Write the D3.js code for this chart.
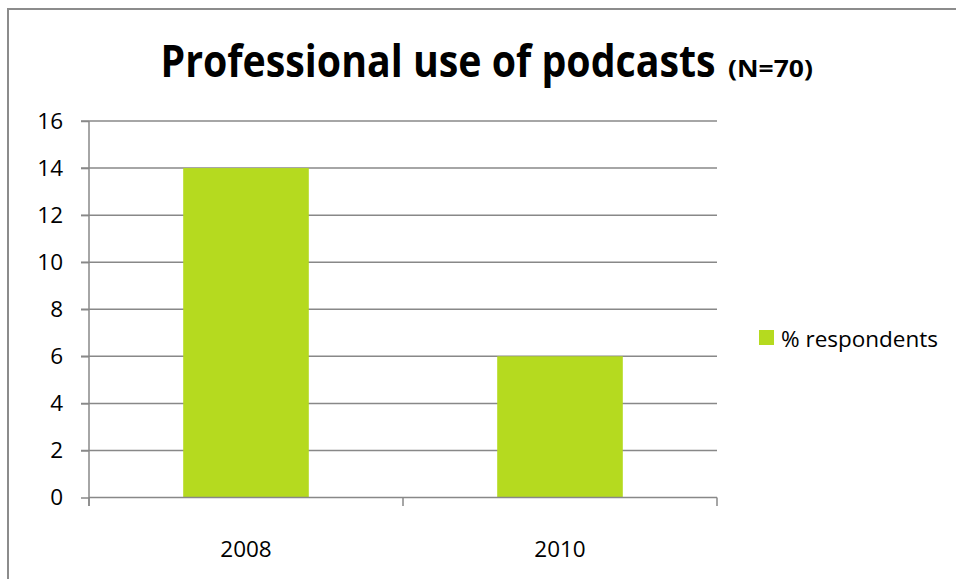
<!DOCTYPE html>
<html>
<head>
<meta charset="utf-8">
<script src="https://cdn.jsdelivr.net/npm/d3@7"></script>
<style>
  html, body { margin: 0; padding: 0; background: #fff; }
  svg { display: block; }
  text { font-family: "Open Sans", sans-serif; fill: #000; }
</style>
</head>
<body>
<svg id="chart" width="956" height="579"></svg>
<script>
const categories = ["2008", "2010"];
const values = [14, 6];
const seriesName = "% respondents";
const yTicks = [0, 2, 4, 6, 8, 10, 12, 14, 16];
const titleMain = "Professional use of podcasts";
const titleSub = "(N=70)";

const svg = d3.select("#chart");
const W = 956, H = 579;
const plot = { left: 89, right: 717, top: 121, bottom: 497.5 };
const gridColor = "#888888";
const barColor = "#b5da1f";
const labelSize = 22.5;

// outer frame
svg.append("path")
  .attr("d", `M8,${H + 5} L8,9 L${W + 5},9`)
  .attr("fill", "none")
  .attr("stroke", "#8c8c8c")
  .attr("stroke-width", 2);

const x = d3.scaleBand()
  .domain(categories)
  .range([plot.left, plot.right])
  .paddingInner(0.6)
  .paddingOuter(0.3);

const y = d3.scaleLinear()
  .domain([0, 16])
  .range([plot.bottom, plot.top]);

// gridlines
svg.append("g").selectAll("line")
  .data(yTicks.filter(d => d !== 0))
  .join("line")
  .attr("x1", plot.left - 8).attr("x2", plot.right)
  .attr("y1", d => y(d)).attr("y2", d => y(d))
  .attr("stroke", gridColor).attr("stroke-width", 1.5);

// bars
svg.append("g").selectAll("rect")
  .data(categories.map((c, i) => ({ c, v: values[i] })))
  .join("rect")
  .attr("x", d => x(d.c))
  .attr("width", x.bandwidth())
  .attr("y", d => y(d.v))
  .attr("height", d => y(0) - y(d.v))
  .attr("fill", barColor);

// y axis
const yAxis = svg.append("g")
  .attr("transform", `translate(${plot.left},0)`)
  .call(d3.axisLeft(y).tickValues(yTicks).tickSize(8).tickPadding(18).tickFormat(d3.format("d")));
yAxis.select(".domain").remove();
yAxis.selectAll(".tick line").attr("stroke", gridColor).attr("stroke-width", 1.5);
yAxis.selectAll(".tick text")
  .attr("font-size", labelSize)
  .attr("font-family", "'Open Sans', sans-serif")
  .attr("fill", "#000");
svg.append("line")
  .attr("x1", plot.left).attr("x2", plot.left)
  .attr("y1", plot.top).attr("y2", plot.bottom + 8.5)
  .attr("stroke", gridColor).attr("stroke-width", 1.5);

// x axis
svg.append("line")
  .attr("x1", plot.left).attr("x2", plot.right)
  .attr("y1", plot.bottom).attr("y2", plot.bottom)
  .attr("stroke", gridColor).attr("stroke-width", 1.5);
const boundaries = [plot.left, ...categories.map(c => x(c) + x.bandwidth() / 2 + x.step() / 2)];
svg.append("g").selectAll("line")
  .data(boundaries)
  .join("line")
  .attr("x1", d => d).attr("x2", d => d)
  .attr("y1", plot.bottom).attr("y2", plot.bottom + 8.5)
  .attr("stroke", gridColor).attr("stroke-width", 1.5);
svg.append("g").selectAll("text")
  .data(categories)
  .join("text")
  .attr("x", d => x(d) + x.bandwidth() / 2)
  .attr("y", 548)
  .attr("text-anchor", "middle")
  .attr("dominant-baseline", "central")
  .attr("font-size", labelSize)
  .text(d => d);

// title (vertically stretched to mimic a condensed bold face)
svg.append("text")
  .attr("transform", "translate(160.5,77) scale(1,1.12)")
  .attr("font-weight", "bold")
  .attr("font-size", 39.3)
  .text(titleMain);
svg.append("text")
  .attr("transform", "translate(728,77) scale(1,0.9)")
  .attr("font-weight", "bold")
  .attr("font-size", 26.5)
  .text(titleSub);

// legend
const lg = svg.append("g").attr("transform", "translate(759,330)");
lg.append("rect").attr("width", 15).attr("height", 15).attr("fill", barColor);
lg.append("text")
  .attr("x", 22).attr("y", 8)
  .attr("dominant-baseline", "central")
  .attr("font-size", labelSize)
  .text(seriesName);
</script>
</body>
</html>
